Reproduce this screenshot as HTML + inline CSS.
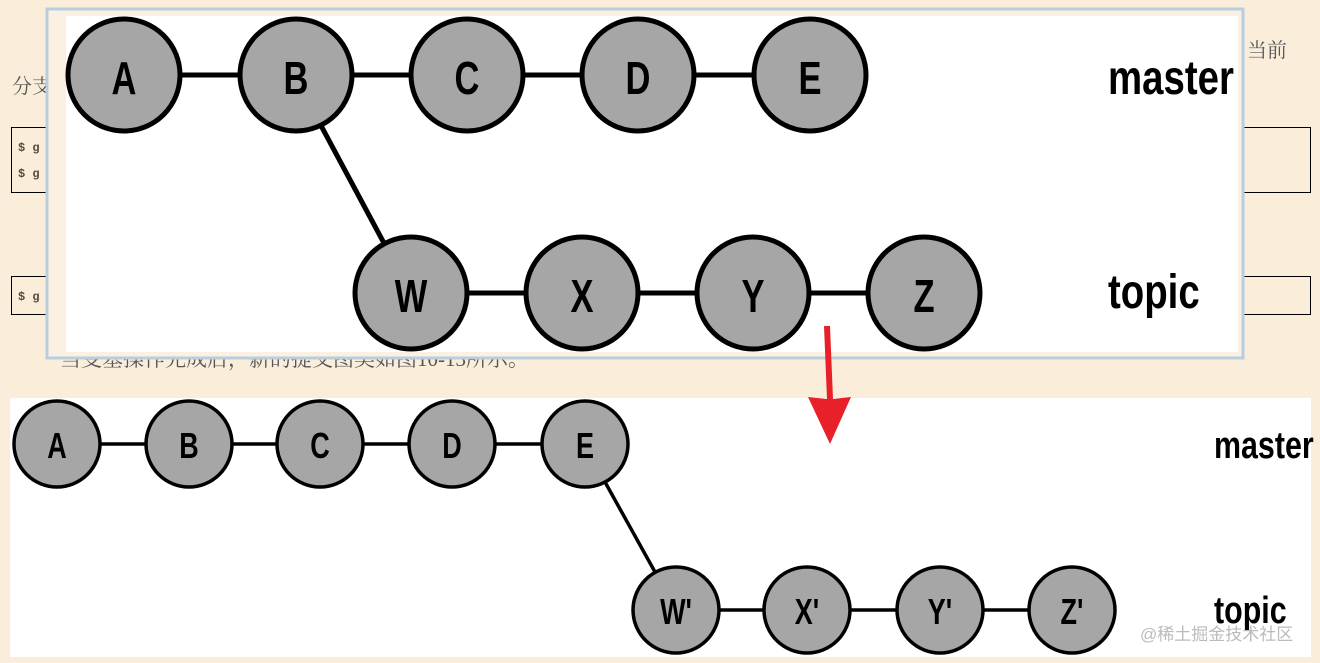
<!DOCTYPE html>
<html><head><meta charset="utf-8"><style>
html,body{margin:0;padding:0;width:1320px;height:663px;overflow:hidden;background:#faeedb;}
svg{display:block}
.n{font-family:"Liberation Sans",sans-serif;font-weight:bold;fill:#000;text-anchor:middle}
.cn{font-family:"Liberation Serif","Noto Serif CJK SC",serif;fill:#555}
.code{font-family:"Liberation Mono",monospace;font-weight:bold;font-size:12px;fill:#5a4a3a}
</style></head><body>
<svg width="1320" height="663" viewBox="0 0 1320 663" xmlns="http://www.w3.org/2000/svg">
<rect width="1320" height="663" fill="#faeedb"/>
<text x="12" y="93" class="cn" font-size="20">分支</text>
<text x="1247" y="57" class="cn" font-size="20">当前</text>
<rect x="11.5" y="127.5" width="1299" height="65" fill="none" stroke="#000" stroke-width="1"/>
<text x="18" y="151" class="code">$ g</text>
<text x="18" y="177" class="code">$ g</text>
<rect x="11.5" y="276.5" width="1299" height="38" fill="none" stroke="#000" stroke-width="1"/>
<text x="18" y="300" class="code">$ g</text>
<text x="60" y="366" class="cn" font-size="21">当变基操作完成后，新的提交图类如图10-13所示。</text>
<rect x="47" y="9" width="1196" height="349" fill="#fbf1e2" stroke="#b8cde0" stroke-width="3"/>
<rect x="66" y="16" width="1172" height="336" fill="#fff"/>
<g stroke="#000" stroke-width="5" fill="#a6a6a6">
<line x1="124" y1="75" x2="810" y2="75"/>
<line x1="411" y1="293" x2="924" y2="293"/>
<line x1="318" y1="120" x2="385" y2="245"/>
<circle cx="124" cy="75" r="56"/><circle cx="296" cy="75" r="56"/><circle cx="467" cy="75" r="56"/><circle cx="638" cy="75" r="56"/><circle cx="810" cy="75" r="56"/>
<circle cx="411" cy="293" r="56"/><circle cx="582" cy="293" r="56"/><circle cx="753" cy="293" r="56"/><circle cx="924" cy="293" r="56"/>
</g>
<g class="n" font-size="46">
<g transform="translate(124,94) scale(0.75,1)"><text>A</text></g>
<g transform="translate(296,94) scale(0.75,1)"><text>B</text></g>
<g transform="translate(467,94) scale(0.75,1)"><text>C</text></g>
<g transform="translate(638,94) scale(0.75,1)"><text>D</text></g>
<g transform="translate(810,94) scale(0.75,1)"><text>E</text></g>
<g transform="translate(411,312) scale(0.75,1)"><text>W</text></g>
<g transform="translate(582,312) scale(0.75,1)"><text>X</text></g>
<g transform="translate(753,312) scale(0.75,1)"><text>Y</text></g>
<g transform="translate(924,312) scale(0.75,1)"><text>Z</text></g>
</g>
<g transform="translate(1108,94) scale(0.8,1)"><text class="n" font-size="48" style="text-anchor:start">master</text></g>
<g transform="translate(1108,308) scale(0.8,1)"><text class="n" font-size="48" style="text-anchor:start">topic</text></g>
<rect x="10" y="398" width="1301" height="259" fill="#fff"/>
<g stroke="#000" stroke-width="3.5" fill="#a6a6a6">
<line x1="57" y1="444" x2="585" y2="444"/>
<line x1="676" y1="610" x2="1072" y2="610"/>
<line x1="605" y1="482" x2="655" y2="572"/>
<circle cx="57" cy="444" r="43"/><circle cx="189" cy="444" r="43"/><circle cx="320" cy="444" r="43"/><circle cx="452" cy="444" r="43"/><circle cx="585" cy="444" r="43"/>
<circle cx="676" cy="610" r="43"/><circle cx="807" cy="610" r="43"/><circle cx="940" cy="610" r="43"/><circle cx="1072" cy="610" r="43"/>
</g>
<g class="n" font-size="36">
<g transform="translate(57,458) scale(0.75,1)"><text>A</text></g>
<g transform="translate(189,458) scale(0.75,1)"><text>B</text></g>
<g transform="translate(320,458) scale(0.75,1)"><text>C</text></g>
<g transform="translate(452,458) scale(0.75,1)"><text>D</text></g>
<g transform="translate(585,458) scale(0.75,1)"><text>E</text></g>
<g transform="translate(676,624) scale(0.75,1)"><text>W'</text></g>
<g transform="translate(807,624) scale(0.75,1)"><text>X'</text></g>
<g transform="translate(940,624) scale(0.75,1)"><text>Y'</text></g>
<g transform="translate(1072,624) scale(0.75,1)"><text>Z'</text></g>
</g>
<g transform="translate(1214,458) scale(0.8,1)"><text class="n" font-size="38" style="text-anchor:start">master</text></g>
<g transform="translate(1214,623) scale(0.8,1)"><text class="n" font-size="38" style="text-anchor:start">topic</text></g>
<text x="1140" y="640" font-family="'Liberation Sans','Noto Sans CJK SC',sans-serif" font-size="17" fill="#bbb">@稀土掘金技术社区</text>
<polygon points="824,326 830,326 833,399 851,397 830,444 808,397 827,399" fill="#e8202a"/>
</svg>
</body></html>
